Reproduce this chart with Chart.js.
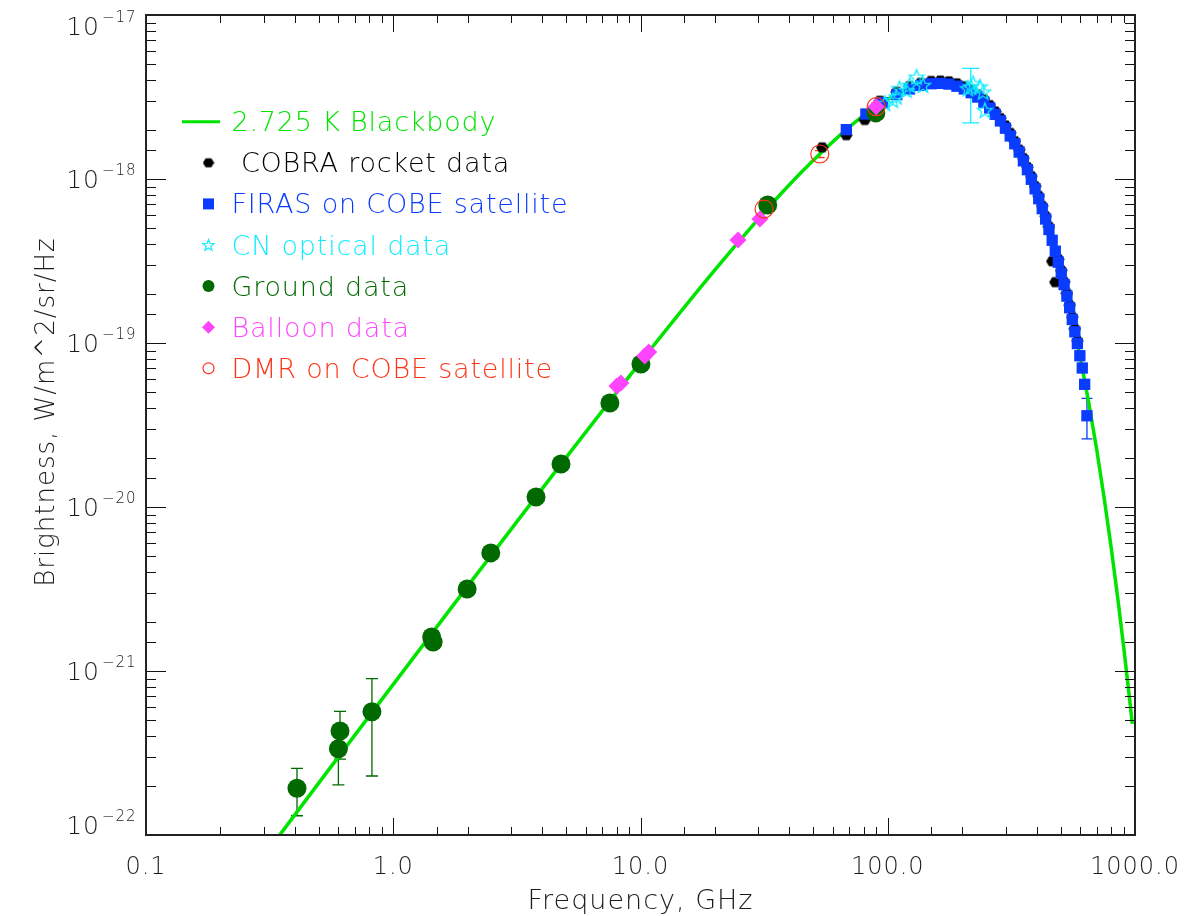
<!DOCTYPE html>
<html>
<head>
<meta charset="utf-8">
<title>CMB spectrum</title>
<script src="https://cdn.jsdelivr.net/npm/chart.js@4.4.1/dist/chart.umd.min.js"></script>
<style>
  html, body { margin: 0; padding: 0; background: #fff; }
  #wrap { width: 1191px; height: 916px; }
</style>
</head>
<body>
<div id="wrap"><canvas id="cmbCanvas" width="1191" height="916"></canvas></div>
<script>
// ---- data (frequency in GHz, brightness in W/m^2/sr/Hz) ----
const curveFreq = [0.3, 0.5, 1, 2, 3, 5, 10, 20, 30, 40, 50, 70, 85, 100, 115, 130, 145, 160, 180, 200, 225, 250,
  300, 350, 400, 450, 500, 550, 600, 650, 700, 750, 800, 850, 900, 950, 975];
const curveBright = [7.44e-23, 2.08e-22, 8.29e-22, 3.29e-21, 7.33e-21, 2.0e-20, 7.65e-20, 2.79e-19, 5.71e-19, 9.22e-19,
  1.30e-18, 2.08e-18, 2.61e-18, 3.06e-18, 3.41e-18, 3.65e-18, 3.79e-18, 3.83e-18, 3.77e-18, 3.59e-18, 3.25e-18, 2.85e-18,
  2.03e-18, 1.33e-18, 8.23e-19, 4.86e-19, 2.76e-19, 1.52e-19, 8.19e-20, 4.32e-20, 2.24e-20, 1.14e-20, 5.74e-21, 2.85e-21,
  1.40e-21, 6.85e-22, 4.76e-22];

const cobraFreq = [54.3, 68.0, 80.8, 93.0, 108.8, 122.4, 136.0, 149.6, 163.2, 176.8, 190.4, 204.0, 217.6, 231.2, 244.8,
  258.4, 272.0, 285.6, 299.2, 312.8, 326.4, 340.0, 353.6, 367.2, 380.8, 394.4, 408.0, 421.6, 435.2, 448.8, 462.4, 476.0,
  489.6, 503.2, 516.8, 530.4, 544.0, 557.6, 571.2, 584.8];
const cobraBright = [1.56e-18, 1.85e-18, 2.29e-18, 3.0e-18, 3.40e-18, 3.68e-18, 3.86e-18, 3.96e-18, 3.98e-18, 3.94e-18,
  3.83e-18, 3.68e-18, 3.49e-18, 3.28e-18, 3.06e-18, 2.82e-18, 2.58e-18, 2.35e-18, 2.12e-18, 1.91e-18, 1.70e-18, 1.51e-18,
  1.34e-18, 1.18e-18, 1.04e-18, 9.05e-19, 7.89e-19, 6.85e-19, 5.93e-19, 5.12e-19, 3.15e-19, 2.35e-19, 3.24e-19, 2.77e-19,
  2.36e-19, 2.01e-19, 1.70e-19, 1.44e-19, 1.22e-19, 1.03e-19];

const firasFreq = [68.0, 81.6, 95.2, 108.8, 122.4, 136.0, 149.6, 163.2, 176.8, 190.4, 204.0, 217.6, 231.2, 244.8, 258.4,
  272.0, 285.6, 299.2, 312.8, 326.4, 340.0, 353.6, 367.2, 380.8, 394.4, 408.0, 421.6, 435.2, 448.8, 462.4, 476.0, 489.6,
  503.2, 516.8, 530.4, 544.0, 557.6, 571.2, 584.8, 598.4, 612.0, 625.6, 639.2];
const firasBright = [2.00e-18, 2.49e-18, 2.92e-18, 3.27e-18, 3.54e-18, 3.72e-18, 3.81e-18, 3.83e-18, 3.79e-18, 3.68e-18,
  3.54e-18, 3.36e-18, 3.16e-18, 2.94e-18, 2.71e-18, 2.48e-18, 2.26e-18, 2.04e-18, 1.83e-18, 1.64e-18, 1.46e-18, 1.29e-18,
  1.14e-18, 9.96e-19, 8.71e-19, 7.58e-19, 6.59e-19, 5.70e-19, 4.92e-19, 4.23e-19, 3.63e-19, 3.11e-19, 2.66e-19, 2.27e-19,
  1.93e-19, 1.64e-19, 1.39e-19, 1.17e-19, 9.92e-20, 8.36e-20, 7.04e-20, 5.6e-20, 3.6e-20];
const firasErrLo = [null, null, null, null, null, null, null, null, null, null, null, null, null, null, null, null, null, null,
  null, null, null, null, null, null, null, null, null, null, null, null, null, null, null, null, null, null, null, null,
  null, null, null, null, 2.6e-20];
const firasErrHi = [null, null, null, null, null, null, null, null, null, null, null, null, null, null, null, null, null, null,
  null, null, null, null, null, null, null, null, null, null, null, null, null, null, null, null, null, null, null, null,
  null, null, null, null, 4.6e-20];

const cnFreq = [97.5, 104.8, 108.5, 111.5, 119.0, 122.7, 130.8, 138.9, 211.0, 216.6, 221.6, 235.6, 243.0, 247.0];
const cnBright = [2.9e-18, 3.03e-18, 3.18e-18, 3.57e-18, 3.49e-18, 3.74e-18, 4.2e-18, 3.74e-18, 3.57e-18, 3.66e-18,
  3.83e-18, 3.66e-18, 3.41e-18, 2.63e-18];
const cnErrLo = [null, null, null, null, null, null, null, null, null, 2.2e-18, null, null, null, null];
const cnErrHi = [null, null, null, null, null, null, null, null, null, 4.73e-18, null, null, null, null];

const groundFreq = [0.408, 0.609, 0.600, 0.82, 1.43, 1.45, 1.99, 2.48, 3.78, 4.77, 7.52, 10.04, 32.7, 89.5];
const groundBright = [1.93e-22, 4.31e-22, 3.36e-22, 5.65e-22, 1.61e-21, 1.50e-21, 3.16e-21, 5.25e-21, 1.15e-20,
  1.83e-20, 4.31e-20, 7.45e-20, 6.94e-19, 2.53e-18];
const groundErrLo = [1.31e-22, 2.9e-22, 2.02e-22, 2.29e-22, null, null, null, null, null, null, null, null, null, null];
const groundErrHi = [2.55e-22, 5.68e-22, 4.4e-22, 8.98e-22, null, null, null, null, null, null, null, null, null, null];

const balloonFreq = [8.03, 8.33, 10.4, 10.8, 24.8, 30.4, 89.8];
const balloonBright = [5.47e-20, 5.70e-20, 8.33e-20, 8.81e-20, 4.25e-19, 5.70e-19, 2.76e-18];

const dmrFreq = [31.6, 53.1, 89.8];
const dmrBright = [6.56e-19, 1.42e-18, 2.76e-18];
const dmrErrLo = [6.25e-19, 1.35e-18, 2.63e-18];
const dmrErrHi = [6.9e-19, 1.49e-18, 2.9e-18];

const xTickVals = [0.1, 1, 10, 100, 1000];
const xTickLabels = ['0.1', '1.0', '10.0', '100.0', '1000.0'];
const yTickExps = [-22, -21, -20, -19, -18, -17];
const xTitle = 'Frequency, GHz';
const yTitle = 'Brightness, W/m^2/sr/Hz';

// ---- colours ----
const cLine = '#00e400';
const cCobra = '#000000';
const cFiras = '#0a3cff';
const cCn = '#12ecff';
const cGround = '#006a00';
const cBalloon = '#ff44ff';
const cDmr = '#ff3318';
const cText = '#1c1c1c';
const fontFam = "'DejaVu Sans', sans-serif";
const fontW = '200 ';

function pts(xs, ys) {
  return xs.map((x, i) => ({ x: x, y: ys[i] }));
}

function makeHexagon(w, color) {
  const c = document.createElement('canvas');
  c.width = w; c.height = w;
  const g = c.getContext('2d');
  g.fillStyle = color;
  g.beginPath();
  for (let i = 0; i < 6; i++) {
    const a = i * Math.PI / 3;
    const px = w / 2 + Math.cos(a) * (w / 2 - 0.3);
    const py = w / 2 + Math.sin(a) * (w / 2 - 0.8);
    if (i === 0) g.moveTo(px, py); else g.lineTo(px, py);
  }
  g.closePath();
  g.fill();
  return c;
}

function starPath(g, cx, cy, R) {
  const r = R * 0.42;
  g.beginPath();
  for (let i = 0; i < 10; i++) {
    const a = -Math.PI / 2 + i * Math.PI / 5;
    const rr = i % 2 === 0 ? R : r;
    const px = cx + Math.cos(a) * rr, py = cy + Math.sin(a) * rr;
    if (i === 0) g.moveTo(px, py); else g.lineTo(px, py);
  }
  g.closePath();
}

function makeStar(w, color) {
  const c = document.createElement('canvas');
  c.width = w; c.height = w;
  const g = c.getContext('2d');
  g.strokeStyle = color;
  g.lineWidth = 1.3;
  starPath(g, w / 2, w / 2 + 0.8, w / 2 - 1);
  g.stroke();
  return c;
}

const hexImg = makeHexagon(13, cCobra);
const starImg = makeStar(18, cCn);

// legend entries drawn in the plot corner
const legendItems = [
  { text: '2.725 K Blackbody', color: cLine, kind: 'line' },
  { text: ' COBRA rocket data', color: cCobra, kind: 'hex' },
  { text: 'FIRAS on COBE satellite', color: cFiras, kind: 'square' },
  { text: 'CN optical data', color: cCn, kind: 'star' },
  { text: 'Ground data', color: cGround, kind: 'dot' },
  { text: 'Balloon data', color: cBalloon, kind: 'diamond' },
  { text: 'DMR on COBE satellite', color: cDmr, kind: 'ring' }
];

function drawErrorBars(chart) {
  const { ctx, chartArea } = chart;
  const xs = chart.scales.x, ys = chart.scales.y;
  ctx.save();
  ctx.beginPath();
  ctx.rect(chartArea.left, chartArea.top, chartArea.right - chartArea.left, chartArea.bottom - chartArea.top);
  ctx.clip();
  chart.data.datasets.forEach(ds => {
    if (!ds.errLow) return;
    ctx.strokeStyle = ds.errColor;
    ctx.lineWidth = 1.3;
    ds.data.forEach((p, i) => {
      const lo = ds.errLow[i], hi = ds.errHigh[i];
      if (lo == null) return;
      const px = xs.getPixelForValue(p.x);
      const y1 = ys.getPixelForValue(lo), y2 = ys.getPixelForValue(hi);
      const hw = ds.capHalf;
      ctx.beginPath();
      ctx.moveTo(px, y1); ctx.lineTo(px, y2);
      ctx.moveTo(px - hw, y1); ctx.lineTo(px + hw, y1);
      ctx.moveTo(px - hw, y2); ctx.lineTo(px + hw, y2);
      ctx.stroke();
    });
  });
  ctx.restore();
}

function isMajor(v) {
  const e = Math.log10(v);
  return Math.abs(e - Math.round(e)) < 1e-6;
}

function drawFrame(chart) {
  const { ctx, chartArea: a } = chart;
  const xs = chart.scales.x, ys = chart.scales.y;
  ctx.save();
  ctx.strokeStyle = '#111';
  ctx.lineWidth = 1;
  xs.ticks.forEach(t => {
    const px = Math.round(xs.getPixelForValue(t.value)) + 0.5;
    const len = isMajor(t.value) ? 17 : 8;
    ctx.beginPath();
    ctx.moveTo(px, a.bottom); ctx.lineTo(px, a.bottom - len);
    ctx.moveTo(px, a.top); ctx.lineTo(px, a.top + len);
    ctx.stroke();
  });
  ys.ticks.forEach(t => {
    const py = Math.round(ys.getPixelForValue(t.value)) + 0.5;
    const len = isMajor(t.value) ? 20 : 10;
    ctx.beginPath();
    ctx.moveTo(a.left, py); ctx.lineTo(a.left + len, py);
    ctx.moveTo(a.right, py); ctx.lineTo(a.right - len, py);
    ctx.stroke();
  });
  ctx.lineWidth = 2;
  ctx.strokeStyle = '#222';
  ctx.strokeRect(a.left, a.top, a.right - a.left, a.bottom - a.top);

  // tick labels
  ctx.fillStyle = cText;
  ctx.textBaseline = 'alphabetic';
  ctx.letterSpacing = '1px';
  ctx.font = fontW + '24px ' + fontFam;
  ctx.textAlign = 'center';
  xTickVals.forEach((v, i) => {
    ctx.fillText(xTickLabels[i], xs.getPixelForValue(v), 874);
  });
  yTickExps.forEach(e => {
    const py = ys.getPixelForValue(Math.pow(10, e));
    const base = Math.min(834, Math.max(35, py + 9));
    ctx.font = fontW + '25px ' + fontFam;
    ctx.textAlign = 'right';
    ctx.fillText('10', 100, base);
    ctx.font = fontW + '15px ' + fontFam;
    ctx.textAlign = 'left';
    ctx.fillText('\u2212' + Math.abs(e), 102, base - 13.5);
  });

  // axis titles
  ctx.font = fontW + '27px ' + fontFam;
  ctx.textAlign = 'center';
  ctx.fillText(xTitle, (a.left + a.right) / 2, 909);
  ctx.save();
  ctx.translate(54, 412);
  ctx.rotate(-Math.PI / 2);
  ctx.font = fontW + '26px ' + fontFam;
  ctx.fillText(yTitle, 0, 0);
  ctx.restore();
  ctx.restore();
}

function drawLegend(chart) {
  const ctx = chart.ctx;
  const mx = 208.5, tx = 231.5;
  ctx.save();
  ctx.font = fontW + '27px ' + fontFam;
  ctx.letterSpacing = '0.8px';
  ctx.textAlign = 'left';
  ctx.textBaseline = 'alphabetic';
  legendItems.forEach((it, i) => {
    const cy = 121.7 + i * 41.1;
    ctx.fillStyle = it.color;
    ctx.strokeStyle = it.color;
    if (it.kind === 'line') {
      ctx.lineWidth = 3;
      ctx.beginPath(); ctx.moveTo(182, cy); ctx.lineTo(220, cy); ctx.stroke();
    } else if (it.kind === 'hex') {
      ctx.drawImage(makeHexagon(12, it.color), mx - 6, cy - 6);
    } else if (it.kind === 'square') {
      ctx.fillRect(mx - 5.5, cy - 5.5, 11, 11);
    } else if (it.kind === 'star') {
      ctx.lineWidth = 1.2;
      starPath(ctx, mx, cy + 0.5, 6);
      ctx.stroke();
    } else if (it.kind === 'dot') {
      ctx.beginPath(); ctx.arc(mx, cy, 6, 0, Math.PI * 2); ctx.fill();
    } else if (it.kind === 'diamond') {
      ctx.beginPath();
      ctx.moveTo(mx - 6.5, cy); ctx.lineTo(mx, cy - 6.5); ctx.lineTo(mx + 6.5, cy); ctx.lineTo(mx, cy + 6.5);
      ctx.closePath(); ctx.fill();
    } else if (it.kind === 'ring') {
      ctx.lineWidth = 1.2;
      ctx.beginPath(); ctx.arc(mx, cy, 5.5, 0, Math.PI * 2); ctx.stroke();
    }
    ctx.fillText(it.text, tx, cy + 9.5);
  });
  ctx.restore();
}

const decorPlugin = {
  id: 'cmbDecor',
  beforeDatasetsDraw(chart) { drawErrorBars(chart); },
  afterDraw(chart) {
    drawFrame(chart);
    drawLegend(chart);
  }
};

const datasets = [
  {
    label: '2.725 K Blackbody', data: pts(curveFreq, curveBright), type: 'line', showLine: true,
    borderColor: cLine, borderWidth: 3.5, pointRadius: 0, cubicInterpolationMode: 'monotone', fill: false, order: 7
  },
  {
    label: 'COBRA rocket data', data: pts(cobraFreq, cobraBright), pointStyle: hexImg, pointRadius: 6,
    backgroundColor: cCobra, borderColor: cCobra, order: 6
  },
  {
    label: 'FIRAS on COBE satellite', data: pts(firasFreq, firasBright), pointStyle: 'rect', pointRadius: 8,
    backgroundColor: cFiras, borderColor: cFiras, borderWidth: 0, order: 5,
    errLow: firasErrLo, errHigh: firasErrHi, errColor: cFiras, capHalf: 5.5
  },
  {
    label: 'CN optical data', data: pts(cnFreq, cnBright), pointStyle: starImg, pointRadius: 8,
    backgroundColor: cCn, borderColor: cCn, order: 4,
    errLow: cnErrLo, errHigh: cnErrHi, errColor: cCn, capHalf: 8.5
  },
  {
    label: 'Ground data', data: pts(groundFreq, groundBright), pointStyle: 'circle', pointRadius: 9.5,
    backgroundColor: cGround, borderColor: cGround, borderWidth: 0, order: 3,
    errLow: groundErrLo, errHigh: groundErrHi, errColor: cGround, capHalf: 6
  },
  {
    label: 'Balloon data', data: pts(balloonFreq, balloonBright), pointStyle: 'rectRot', pointRadius: 8.5,
    backgroundColor: cBalloon, borderColor: cBalloon, borderWidth: 0, order: 2
  },
  {
    label: 'DMR on COBE satellite', data: pts(dmrFreq, dmrBright), pointStyle: 'circle', pointRadius: 9,
    backgroundColor: 'rgba(0,0,0,0)', borderColor: cDmr, borderWidth: 1.2, order: 1,
    errLow: dmrErrLo, errHigh: dmrErrHi, errColor: cDmr, capHalf: 5
  }
];

const config = {
  type: 'scatter',
  data: { datasets: datasets },
  options: {
    responsive: false,
    animation: false,
    devicePixelRatio: 1,
    layout: { padding: { left: 0, right: 56, top: 15, bottom: 0 } },
    plugins: { legend: { display: false }, tooltip: { enabled: false } },
    scales: {
      x: {
        type: 'logarithmic', min: 0.1, max: 1000,
        grid: { display: false }, border: { display: false },
        ticks: { display: false, autoSkip: false },
        afterFit: s => { s.height = 81; }
      },
      y: {
        type: 'logarithmic', min: 1e-22, max: 1e-17,
        grid: { display: false }, border: { display: false },
        ticks: { display: false, autoSkip: false },
        afterFit: s => { s.width = 146; }
      }
    }
  },
  plugins: [decorPlugin]
};

const ctx = document.getElementById('cmbCanvas').getContext('2d');
new Chart(ctx, config);
</script>
</body>
</html>
